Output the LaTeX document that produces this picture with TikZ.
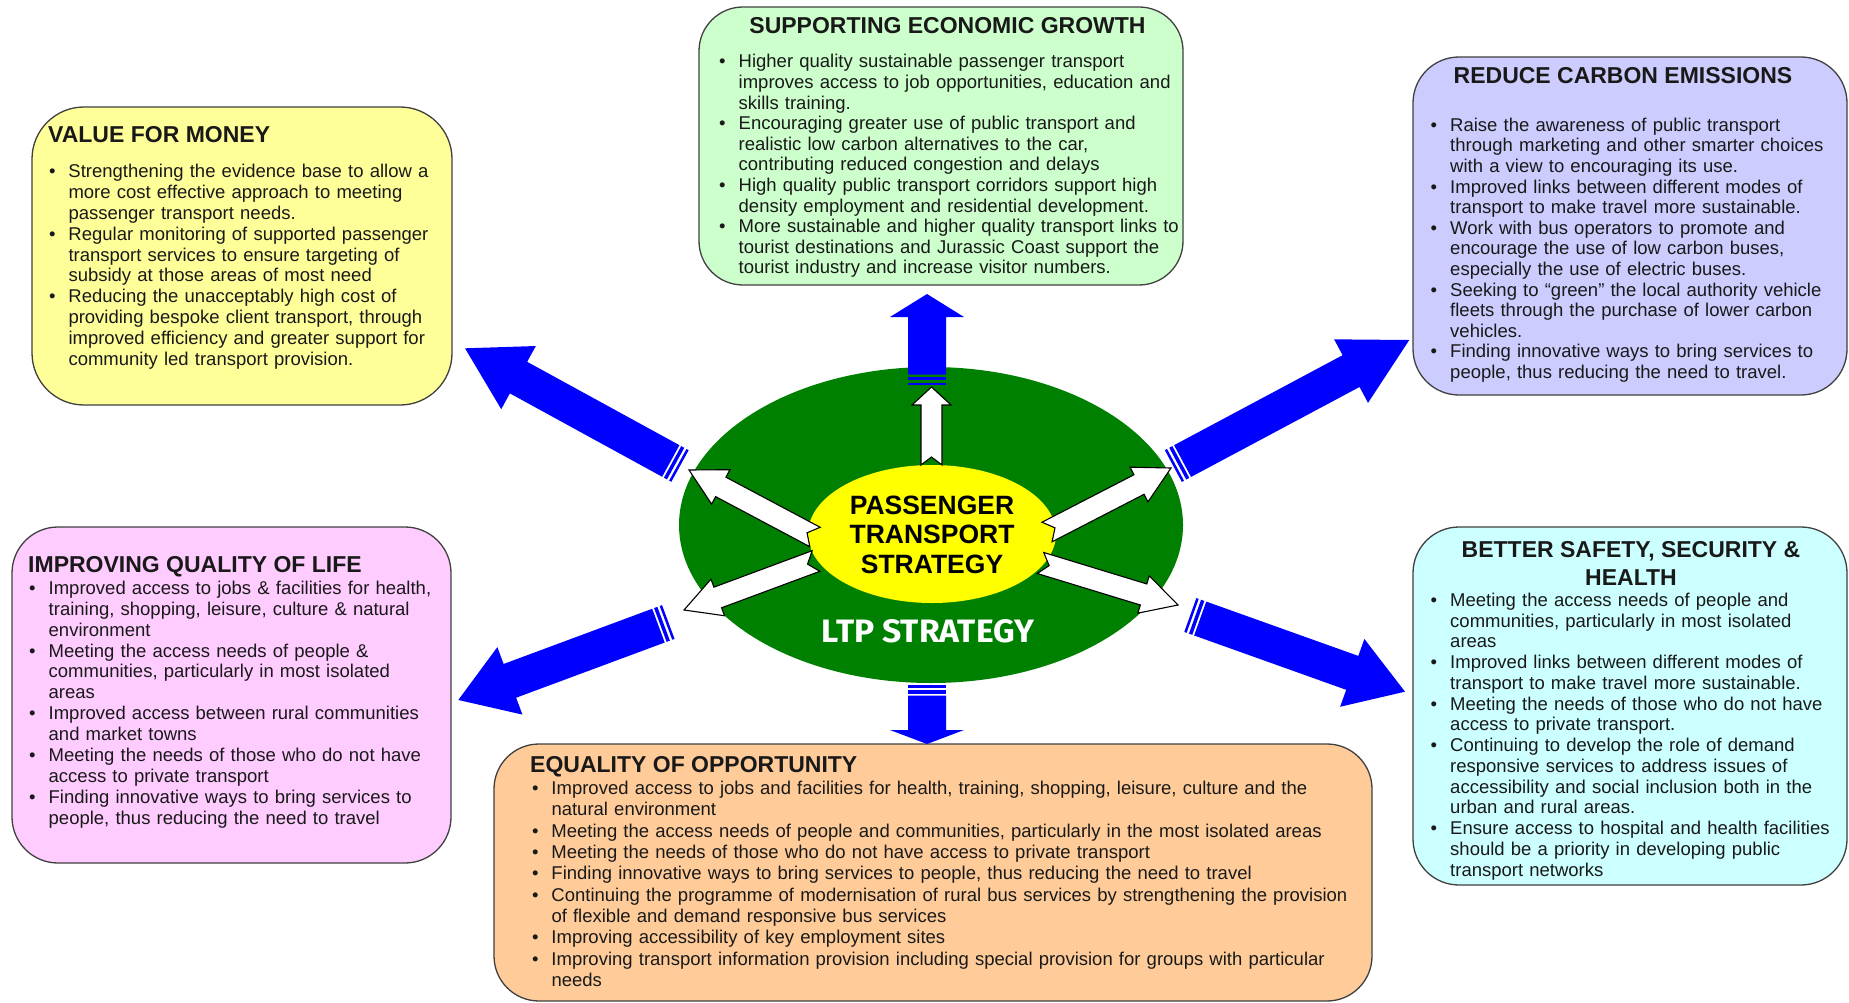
\documentclass[tikz,border=0pt]{standalone}
\usepackage{fontspec}
\setmainfont{Liberation Sans}
\newfontfamily\ltpfont{Fira Sans}
\usepackage{graphicx}
\usetikzlibrary{calc,shapes.geometric}

\definecolor{cYel}{HTML}{FFFF99}
\definecolor{cGrn}{HTML}{CCFFCC}
\definecolor{cPur}{HTML}{CCCCFF}
\definecolor{cPnk}{HTML}{FFCCFF}
\definecolor{cCyn}{HTML}{CCFFFF}
\definecolor{cOrg}{HTML}{FFCC99}
\definecolor{ltpgreen}{HTML}{008000}
\definecolor{ptsyellow}{HTML}{FFFF00}
\definecolor{arrblue}{HTML}{0000FF}

\newcommand\bodyfont[1]{\fontsize{18.5}{#1}\selectfont}
\newcommand\titlefont{\fontsize{23}{27}\selectfont\bfseries}
\newlength\hangw \setlength\hangw{19.5pt}
\newcommand\bl[1]{\par\hangindent=\hangw\hangafter=1\noindent\hbox to \hangw{\strut\textbullet\hss}#1}

\newcommand\getang[2]{%
  \path let \p1=(#1), \p2=(#2) in \pgfextra{%
    \pgfmathsetmacro\tmpa{atan2(\y2-\y1,\x2-\x1)}\global\let\myang\tmpa
    \pgfmathsetmacro\tmpb{veclen(\x2-\x1,\y2-\y1)}\global\let\mylen\tmpb};}

% #1 tail, #2 tip, #3 half shaft, #4 half head, #5 head length
\newcommand\bluearrow[5]{%
  \getang{#1}{#2}%
  \begin{scope}[shift={(#1)},rotate=\myang]
    \fill[arrblue] (0pt,-#3pt) -- (2.5pt,-#3pt) -- (2.5pt,#3pt) -- (0pt,#3pt) -- cycle;
    \fill[arrblue] (5pt,-#3pt) -- (8.5pt,-#3pt) -- (8.5pt,#3pt) -- (5pt,#3pt) -- cycle;
    \fill[arrblue] (10.5pt,-#3pt) -- ({\mylen pt-#5pt},-#3pt) -- ({\mylen pt-#5pt},-#4pt)
      -- (\mylen pt,0pt) -- ({\mylen pt-#5pt},#4pt) -- ({\mylen pt-#5pt},#3pt) -- (10.5pt,#3pt) -- cycle;
  \end{scope}}

% #1 tail, #2 tip, #3 half shaft, #4 half head, #5 head length, #6 notch
\newcommand\whitearrow[6]{%
  \getang{#1}{#2}%
  \begin{scope}[shift={(#1)},rotate=\myang]
    \filldraw[fill=white,draw=black,line width=1.1pt,line join=miter]
      (0pt,-#3pt) -- ({\mylen pt-#5pt},-#3pt) -- ({\mylen pt-#5pt},-#4pt)
      -- (\mylen pt,0pt) -- ({\mylen pt-#5pt},#4pt) -- ({\mylen pt-#5pt},#3pt) -- (0pt,#3pt) -- (#6pt,0pt) -- cycle;
  \end{scope}}

\begin{document}
\begin{tikzpicture}[x=1pt,y=-1pt,
  box/.style={draw=black!75,line width=1.3pt,inner sep=0pt,outer sep=0pt},
  ttl/.style={inner sep=0pt,font=\titlefont,text=black!90},
  lst/.style={anchor=north west,inner sep=0pt,text=black!90}]
\useasboundingbox (0,0) rectangle (1849,1003);
\fill[white] (0,0) rectangle (1849,1003);

% boxes
\node[box,fill=cYel,rounded corners=52pt,minimum width=420pt,minimum height=298pt] (vfm) at (242,256) {};
\node[box,fill=cGrn,rounded corners=44pt,minimum width=484pt,minimum height=278pt] (seg) at (941,146) {};
\node[box,fill=cPur,rounded corners=46pt,minimum width=434pt,minimum height=338pt] (rce) at (1630,226) {};
\node[box,fill=cPnk,rounded corners=46pt,minimum width=439pt,minimum height=336pt] (iql) at (231.5,695) {};
\node[box,fill=cCyn,rounded corners=46pt,minimum width=434pt,minimum height=358pt] (bssh) at (1630,706) {};
\node[box,fill=cOrg,rounded corners=45pt,minimum width=878pt,minimum height=257pt] (eoo) at (933,872.5) {};

% central ellipses
\node[ellipse,fill=ltpgreen,inner sep=0pt,minimum width=504pt,minimum height=316pt] (ltp) at (931,525) {};
\node[ellipse,fill=ptsyellow,inner sep=0pt,minimum width=248pt,minimum height=138pt] (pts) at (932,534) {};

% blue arrow coordinates
\coordinate (bUpT) at (927,385);   \coordinate (bUpH) at (927,294);
\coordinate (bDnT) at (927,685);   \coordinate (bDnH) at (927,744);
\coordinate (bULT) at (680,466);   \coordinate (bULH) at (465,348.3);
\coordinate (bURT) at (1173.3,466);\coordinate (bURH) at (1409.3,340);
\coordinate (bLLT) at (668.3,622); \coordinate (bLLH) at (458.3,700);
\coordinate (bLRT) at (1190.3,615);\coordinate (bLRH) at (1405,691.7);

\bluearrow{bUpT}{bUpH}{19}{37}{23}
\bluearrow{bDnT}{bDnH}{19}{37}{14}
\bluearrow{bULT}{bULH}{18}{36}{61}
\bluearrow{bURT}{bURH}{18}{36}{66}
\bluearrow{bLLT}{bLLH}{18}{36}{55}
\bluearrow{bLRT}{bLRH}{18}{36}{56}

% white arrow coordinates
\coordinate (wUpT) at (931.5,465); \coordinate (wUpH) at (931.5,387);
\coordinate (wULT) at (815,537);   \coordinate (wULH) at (689,470);
\coordinate (wURT) at (1047,532);  \coordinate (wURH) at (1171,468);
\coordinate (wLLT) at (816,561);   \coordinate (wLLH) at (684,610);
\coordinate (wLRT) at (1040.5,563);\coordinate (wLRH) at (1178,605);

\whitearrow{wUpT}{wUpH}{10.5}{19.5}{18}{8}
\whitearrow{wULT}{wULH}{11}{19.5}{36}{9}
\whitearrow{wURT}{wURH}{11}{19.5}{36}{9}
\whitearrow{wLLT}{wLLH}{11}{19.5}{36}{9}
\whitearrow{wLRT}{wLRH}{11}{19.5}{36}{9}

% centre texts
\node[anchor=north,inner sep=0pt,text width=260pt,align=center,font={\fontsize{26.5}{29.5}\selectfont\bfseries}] (ptsT) at (932,493.4) {\strut PASSENGER\\TRANSPORT\\STRATEGY};
\node[anchor=base,inner sep=0pt,text=white] (ltpT) at (928,642) {\resizebox{212pt}{23pt}{\ltpfont\bfseries LTP STRATEGY}};

% titles
\node[ttl,anchor=base west] (vfmT) at (48,143) {VALUE FOR MONEY};
\node[ttl,anchor=base] (segT) at (947.5,33.3) {SUPPORTING ECONOMIC GROWTH};
\node[ttl,anchor=base] (rceT) at (1623,83.3) {REDUCE CARBON EMISSIONS};
\node[ttl,anchor=base west] (iqlT) at (28,572) {IMPROVING QUALITY OF LIFE};
\node[ttl,anchor=base] (bsshT) at (1631,557.5) {BETTER SAFETY, SECURITY \&};
\node[ttl,anchor=base] (bsshT2) at (1631,585) {HEALTH};
\node[ttl,anchor=base west] (eooT) at (530,772) {EQUALITY OF OPPORTUNITY};

% lists
\node[lst,text width=400pt,font={\bodyfont{20.9}}] (vfmL) at (48.8,156.4) {%
\bl{Strengthening the evidence base to allow a\newline more cost effective approach to meeting\newline passenger transport needs.}%
\bl{Regular monitoring of supported passenger\newline transport services to ensure targeting of\newline subsidy at those areas of most need}%
\bl{Reducing the unacceptably high cost of\newline providing bespoke client transport, through\newline improved efficiency and greater support for\newline community led transport provision.}\par};

\node[lst,text width=470pt,font={\bodyfont{20.6}}] (segL) at (719,47.2) {%
\bl{Higher quality sustainable passenger transport\newline improves access to job opportunities, education and\newline skills training.}%
\bl{Encouraging greater use of public transport and\newline realistic low carbon alternatives to the car,\newline contributing reduced congestion and delays}%
\bl{High quality public transport corridors support high\newline density employment and residential development.}%
\bl{More sustainable and higher quality transport links to\newline tourist destinations and Jurassic Coast support the\newline tourist industry and increase visitor numbers.}\par};

\node[lst,text width=415pt,font={\bodyfont{20.6}}] (rceL) at (1430.5,110.6) {%
\bl{Raise the awareness of public transport\newline through marketing and other smarter choices\newline with a view to encouraging its use.}%
\bl{Improved links between different modes of\newline transport to make travel more sustainable.}%
\bl{Work with bus operators to promote and\newline encourage the use of low carbon buses,\newline especially the use of electric buses.}%
\bl{Seeking to “green” the local authority vehicle\newline fleets through the purchase of lower carbon\newline vehicles.}%
\bl{Finding innovative ways to bring services to\newline people, thus reducing the need to travel.}\par};

\node[lst,text width=420pt,font={\bodyfont{20.9}}] (iqlL) at (29,573.2) {%
\bl{Improved access to jobs \& facilities for health,\newline training, shopping, leisure, culture \& natural\newline environment}%
\bl{Meeting the access needs of people \&\newline communities, particularly in most isolated\newline areas}%
\bl{Improved access between rural communities\newline and market towns}%
\bl{Meeting the needs of those who do not have\newline access to private transport}%
\bl{Finding innovative ways to bring services to\newline people, thus reducing the need to travel}\par};

\node[lst,text width=415pt,font={\bodyfont{20.75}}] (bsshL) at (1430.5,585.5) {%
\bl{Meeting the access needs of people and\newline communities, particularly in most isolated\newline areas}%
\bl{Improved links between different modes of\newline transport to make travel more sustainable.}%
\bl{Meeting the needs of those who do not have\newline access to private transport.}%
\bl{Continuing to develop the role of demand\newline responsive services to address issues of\newline accessibility and social inclusion both in the\newline urban and rural areas.}%
\bl{Ensure access to hospital and health facilities\newline should be a priority in developing public\newline transport networks}\par};

\node[lst,text width=840pt,font={\bodyfont{21.3}}] (eooL) at (531.8,773.1) {%
\bl{Improved access to jobs and facilities for health, training, shopping, leisure, culture and the\newline natural environment}%
\bl{Meeting the access needs of people and communities, particularly in the most isolated areas}%
\bl{Meeting the needs of those who do not have access to private transport}%
\bl{Finding innovative ways to bring services to people, thus reducing the need to travel}%
\bl{Continuing the programme of modernisation of rural bus services by strengthening the provision\newline of flexible and demand responsive bus services}%
\bl{Improving accessibility of key employment sites}%
\bl{Improving transport information provision including special provision for groups with particular\newline needs}\par};
\end{tikzpicture}
\end{document}
